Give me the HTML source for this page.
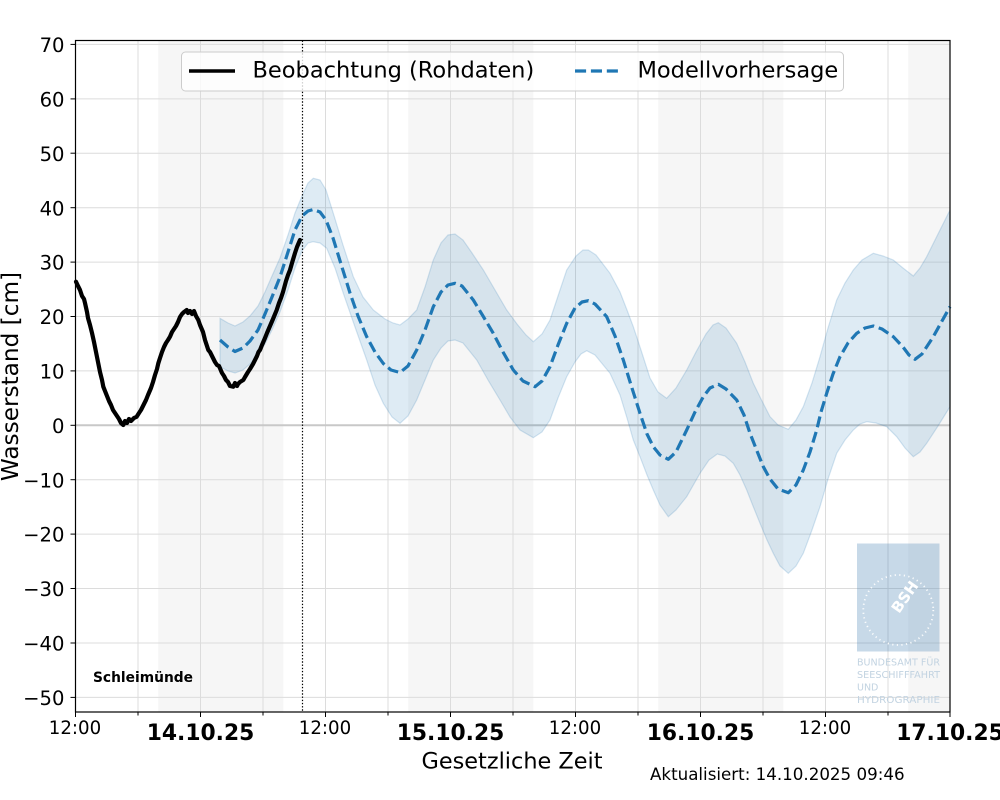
<!DOCTYPE html>
<html>
<head>
<meta charset="utf-8">
<style>
html,body{margin:0;padding:0;background:#fff;}
svg{display:block;}
text{font-family:"DejaVu Sans","Liberation Sans",sans-serif;}
</style>
</head>
<body>
<svg width="1000" height="800" viewBox="0 0 1000 800" xmlns="http://www.w3.org/2000/svg">
<rect x="0" y="0" width="1000" height="800" fill="#ffffff"/>
<!-- night shading -->
<g fill="#f6f6f6">
<rect x="158.3" y="40.5" width="125" height="671.5"/>
<rect x="408.3" y="40.5" width="125" height="671.5"/>
<rect x="658.3" y="40.5" width="125" height="671.5"/>
<rect x="908.3" y="40.5" width="41.7" height="671.5"/>
</g>
<!-- grid -->
<g stroke="#dcdcdc" stroke-width="1">
<line x1="75.5" x2="950" y1="44.4" y2="44.4"/>
<line x1="75.5" x2="950" y1="98.9" y2="98.9"/>
<line x1="75.5" x2="950" y1="153.2" y2="153.2"/>
<line x1="75.5" x2="950" y1="207.7" y2="207.7"/>
<line x1="75.5" x2="950" y1="262.1" y2="262.1"/>
<line x1="75.5" x2="950" y1="316.5" y2="316.5"/>
<line x1="75.5" x2="950" y1="370.9" y2="370.9"/>
<line x1="75.5" x2="950" y1="479.7" y2="479.7"/>
<line x1="75.5" x2="950" y1="534.1" y2="534.1"/>
<line x1="75.5" x2="950" y1="588.5" y2="588.5"/>
<line x1="75.5" x2="950" y1="643.0" y2="643.0"/>
<line x1="75.5" x2="950" y1="697.4" y2="697.4"/>
<line x1="138" x2="138" y1="40.5" y2="712"/>
<line x1="200.5" x2="200.5" y1="40.5" y2="712"/>
<line x1="263" x2="263" y1="40.5" y2="712"/>
<line x1="325.5" x2="325.5" y1="40.5" y2="712"/>
<line x1="388" x2="388" y1="40.5" y2="712"/>
<line x1="450.5" x2="450.5" y1="40.5" y2="712"/>
<line x1="513" x2="513" y1="40.5" y2="712"/>
<line x1="575.5" x2="575.5" y1="40.5" y2="712"/>
<line x1="638" x2="638" y1="40.5" y2="712"/>
<line x1="700.5" x2="700.5" y1="40.5" y2="712"/>
<line x1="763" x2="763" y1="40.5" y2="712"/>
<line x1="825.5" x2="825.5" y1="40.5" y2="712"/>
<line x1="888" x2="888" y1="40.5" y2="712"/>
</g>
<line x1="75.5" x2="950" y1="425.3" y2="425.3" stroke="#c8c8c8" stroke-width="2"/>

<!-- logo -->
<rect x="857" y="543.5" width="82.5" height="108" fill="#4682b4" fill-opacity="0.3"/>
<circle cx="898.3" cy="610" r="35" fill="none" stroke="#ffffff" stroke-width="1.8" stroke-dasharray="1.2 3.4" stroke-opacity="0.9"/>
<text x="905" y="602" font-size="15" font-weight="bold" fill="#ffffff" text-anchor="middle" transform="rotate(-55 905 597)">BSH</text>
<g fill="#c2d3e1" font-size="9.5">
<text x="857" y="665.5" textLength="83" lengthAdjust="spacingAndGlyphs">BUNDESAMT FÜR</text>
<text x="857" y="678" textLength="83" lengthAdjust="spacingAndGlyphs">SEESCHIFFFAHRT</text>
<text x="857" y="690.5">UND</text>
<text x="857" y="703" textLength="83" lengthAdjust="spacingAndGlyphs">HYDROGRAPHIE</text>
</g>

<!-- band -->
<polygon fill="#1f77b4" fill-opacity="0.15" stroke="#1f77b4" stroke-opacity="0.18" stroke-width="1.2" points="
220,318.3 228,323 235,326 243,322 250,316 258,306 265,292 272,276 280,258 288,235 295,213 302,196 308,183 313.3,178.3 320,180 326,190 333.3,213.3 343,245 353.3,276.7 363,297 373.3,310 385,319 393,323 400,325 408,319 416.7,310 425,287 433.3,260 441,243 448,235 455,234 463,240 472,253 483.3,270 495,290 506.7,310 517,324 526,335 533.3,341.7 542,334 550,320 558,296 566.7,270 576,256 583,250 588.3,250 596,255 610,273.3 620,292 627,310 633.3,326.7 641,350 650,378 658,392 666.7,398.3 676,388 686.7,370 696,352 706,334 713,325 718.3,322.7 726,328 736.7,343.3 745,362 753.3,383.3 761,399 770,416.7 778,425 788.3,429.3 796,420 803.3,406.7 812,383 820,356.7 828,328 836.7,300 845,283 853.3,270 862,260 873.3,253.3 883,256 893.3,260 903,268 913.3,276 920,268 926.7,256.7 938,234 950,210
950,406.7 938,426 926.7,443.3 920,452 913.3,456.7 905,448 896.7,436.7 886.7,426.7 876,423 866.7,421.7 860,424 853.3,430 845,440 836.7,453.3 828,479 820,506.7 812,530 803.3,553.3 796,566 788.3,573.3 780,566 773.3,553.3 767,540 760,523.3 753,506 746.7,490 740,475 733.3,463.3 725,456 717.3,454 709,460 700,473.3 686.7,496.7 676,510 668.3,516.7 660,505 653.3,490 647,475 640,456.7 633.3,440 627,418 620,395 610,373.3 595,355 586.7,350.7 581,354 575,362 566.7,376.7 558,398 550,420 542,432 533.3,437.7 520,430 510,417 500,400 488,380 476.7,360 463,343 455,340 448,341 441,348 433.3,360 425,380 416.7,400 408,416 400,423.3 392,417 383.3,403.3 375,385 366.7,360 355,327 343.3,293.3 335,268 326.7,248.3 320,243 313,241.7 308,243 302,251 295,268 288,290 280,312 272,330 265,344 258,355 250,364 243,370 235,373 228,371 220,366.7"/>

<!-- observation -->
<polyline fill="none" stroke="#000" stroke-width="4.2" stroke-linejoin="round" stroke-linecap="round" points="
76,281.7 78,286 80,290 82,296 84,299 85,303 87,312 88,318 90,325 92,333 94,342 96,352 98,362 100,372 102,380 103.3,386.7 105,391 107,396 109,401 111,405 113,410 115,413 117,416 119,419 121,423 123.3,425 125,421 127,423 129,419 131,421 134,418 136.7,416.7 139,413 141,410 143,406 146,400 148,395 151,388 153,382 155,375 157,369 158.3,363.3 160,358 162,352 164,347 166,343 168,340 170,336.7 172,332 174,329 176,326 178,322 180,317 182,314 184,312 186.7,310 188,313 190,311 192,314 194,311 196,316 198.3,320 200,325 203,332 205,340 208.3,350 210,352 213,358 215,362 217,365 219,366 220,368.3 222,373 224,376 226,380 228,382 230,386 233.3,386.7 235,383 237,386 238,384 240,382 243.3,380 245,377 248,372 250,369 253,364 255,360 257,356 258.5,352 260,350 262,345 265,338 267,333 270,326 273,319 276.7,310 279,303 281,298 283,292 286,281 288,275 290,270 292,263 295,253 297,247 300,240"/>

<!-- forecast -->
<polyline fill="none" stroke="#1f77b4" stroke-width="3.2" stroke-dasharray="11.1 4.8" stroke-linejoin="round" points="
220,340 228,347 235,351.5 243,348 250,341 258,330 265,314 272,297 280,277 288,252 295,230 302,216 308,211 313.3,209.5 320,212 326,220 333,238 341,264 350,293 358,316 366.7,336.7 375,352 383.3,363.5 391,370 400,372.5 408,366 416.7,350 425,330 433.3,306.7 441,292 448,285 455,283.3 462,286 473.3,300 483,316 493.3,333.3 503,352 513.3,370 523,381 535,386.7 542,381 550,366.7 558,345 566.7,323.3 575,308 582,302 588.3,300.7 595,304 606.7,316.7 615,336 623.3,360 631,385 640,413.3 647,434 653.3,446.7 660,455 668.3,459.3 676,452 686.7,430 695,412 703.3,396.7 710,388 718.3,384.3 726,389 736.7,400 744,415 750,433.3 757,451 763.3,466.7 770,479 778,489 788.3,492.7 796,485 803.3,470 810,452 816.7,430 821,412 826.7,393.3 833,374 840,356.7 848,343 856.7,333.3 865,328 873.3,326 882,329 893.3,336.7 903,347 909,355 915,359.3 922,354 933.3,336.7 942,321 950,306.7"/>

<!-- now line -->
<line x1="302.5" x2="302.5" y1="40.5" y2="712" stroke="#000" stroke-width="1.2" stroke-dasharray="1.4 1.8"/>

<!-- axes frame -->
<rect x="75.5" y="40.5" width="874.5" height="671.5" fill="none" stroke="#000" stroke-width="1.2"/>

<!-- y ticks -->
<g stroke="#000" stroke-width="1">
<line x1="70.5" x2="75.5" y1="44.4" y2="44.4"/>
<line x1="70.5" x2="75.5" y1="98.9" y2="98.9"/>
<line x1="70.5" x2="75.5" y1="153.2" y2="153.2"/>
<line x1="70.5" x2="75.5" y1="207.7" y2="207.7"/>
<line x1="70.5" x2="75.5" y1="262.1" y2="262.1"/>
<line x1="70.5" x2="75.5" y1="316.5" y2="316.5"/>
<line x1="70.5" x2="75.5" y1="370.9" y2="370.9"/>
<line x1="70.5" x2="75.5" y1="425.3" y2="425.3"/>
<line x1="70.5" x2="75.5" y1="479.7" y2="479.7"/>
<line x1="70.5" x2="75.5" y1="534.1" y2="534.1"/>
<line x1="70.5" x2="75.5" y1="588.5" y2="588.5"/>
<line x1="70.5" x2="75.5" y1="643.0" y2="643.0"/>
<line x1="70.5" x2="75.5" y1="697.4" y2="697.4"/>
</g>
<g font-size="19.6" fill="#000" text-anchor="end">
<text x="64.5" y="52">70</text>
<text x="64.5" y="106.5">60</text>
<text x="64.5" y="160.8">50</text>
<text x="64.5" y="215.3">40</text>
<text x="64.5" y="269.7">30</text>
<text x="64.5" y="324.1">20</text>
<text x="64.5" y="378.5">10</text>
<text x="64.5" y="432.9">0</text>
<text x="64.5" y="487.3">−10</text>
<text x="64.5" y="541.7">−20</text>
<text x="64.5" y="596.1">−30</text>
<text x="64.5" y="650.6">−40</text>
<text x="64.5" y="705">−50</text>
</g>

<!-- x ticks -->
<g stroke="#000" stroke-width="1">
<line x1="75.5" x2="75.5" y1="712" y2="717"/>
<line x1="200.5" x2="200.5" y1="712" y2="717"/>
<line x1="325.5" x2="325.5" y1="712" y2="717"/>
<line x1="450.5" x2="450.5" y1="712" y2="717"/>
<line x1="575.5" x2="575.5" y1="712" y2="717"/>
<line x1="700.5" x2="700.5" y1="712" y2="717"/>
<line x1="825.5" x2="825.5" y1="712" y2="717"/>
<line x1="950" x2="950" y1="712" y2="717"/>
<line x1="138" x2="138" y1="712" y2="715.5"/>
<line x1="263" x2="263" y1="712" y2="715.5"/>
<line x1="388" x2="388" y1="712" y2="715.5"/>
<line x1="513" x2="513" y1="712" y2="715.5"/>
<line x1="638" x2="638" y1="712" y2="715.5"/>
<line x1="763" x2="763" y1="712" y2="715.5"/>
<line x1="888" x2="888" y1="712" y2="715.5"/>
</g>
<g font-size="18.2" fill="#000" text-anchor="middle">
<text x="75" y="734">12:00</text>
<text x="325" y="734">12:00</text>
<text x="575" y="734">12:00</text>
<text x="825" y="734">12:00</text>
</g>
<g font-size="21.8" font-weight="bold" fill="#000" text-anchor="middle">
<text x="200.5" y="740">14.10.25</text>
<text x="450.5" y="740">15.10.25</text>
<text x="700.5" y="740">16.10.25</text>
<text x="950" y="740">17.10.25</text>
</g>

<!-- axis labels -->
<text x="512" y="768.5" font-size="22.4" fill="#000" text-anchor="middle">Gesetzliche Zeit</text>
<text x="18" y="376.5" font-size="23.2" fill="#000" text-anchor="middle" transform="rotate(-90 18 376.5)">Wasserstand [cm]</text>
<text x="650" y="780" font-size="16.7" fill="#000">Aktualisiert: 14.10.2025 09:46</text>
<text x="93" y="682" font-size="13.8" font-weight="bold" fill="#000">Schleimünde</text>

<!-- legend -->
<rect x="181.5" y="52" width="662" height="39" rx="4" ry="4" fill="#ffffff" fill-opacity="0.8" stroke="#cccccc" stroke-width="1"/>
<line x1="189" x2="235" y1="71" y2="71" stroke="#000" stroke-width="3.6"/>
<text x="252.5" y="77.5" font-size="22.5" fill="#000">Beobachtung (Rohdaten)</text>
<line x1="575" x2="620" y1="71" y2="71" stroke="#1f77b4" stroke-width="3.2" stroke-dasharray="11.1 4.8"/>
<text x="637.5" y="77.5" font-size="22.5" fill="#000">Modellvorhersage</text>
</svg>
</body>
</html>
